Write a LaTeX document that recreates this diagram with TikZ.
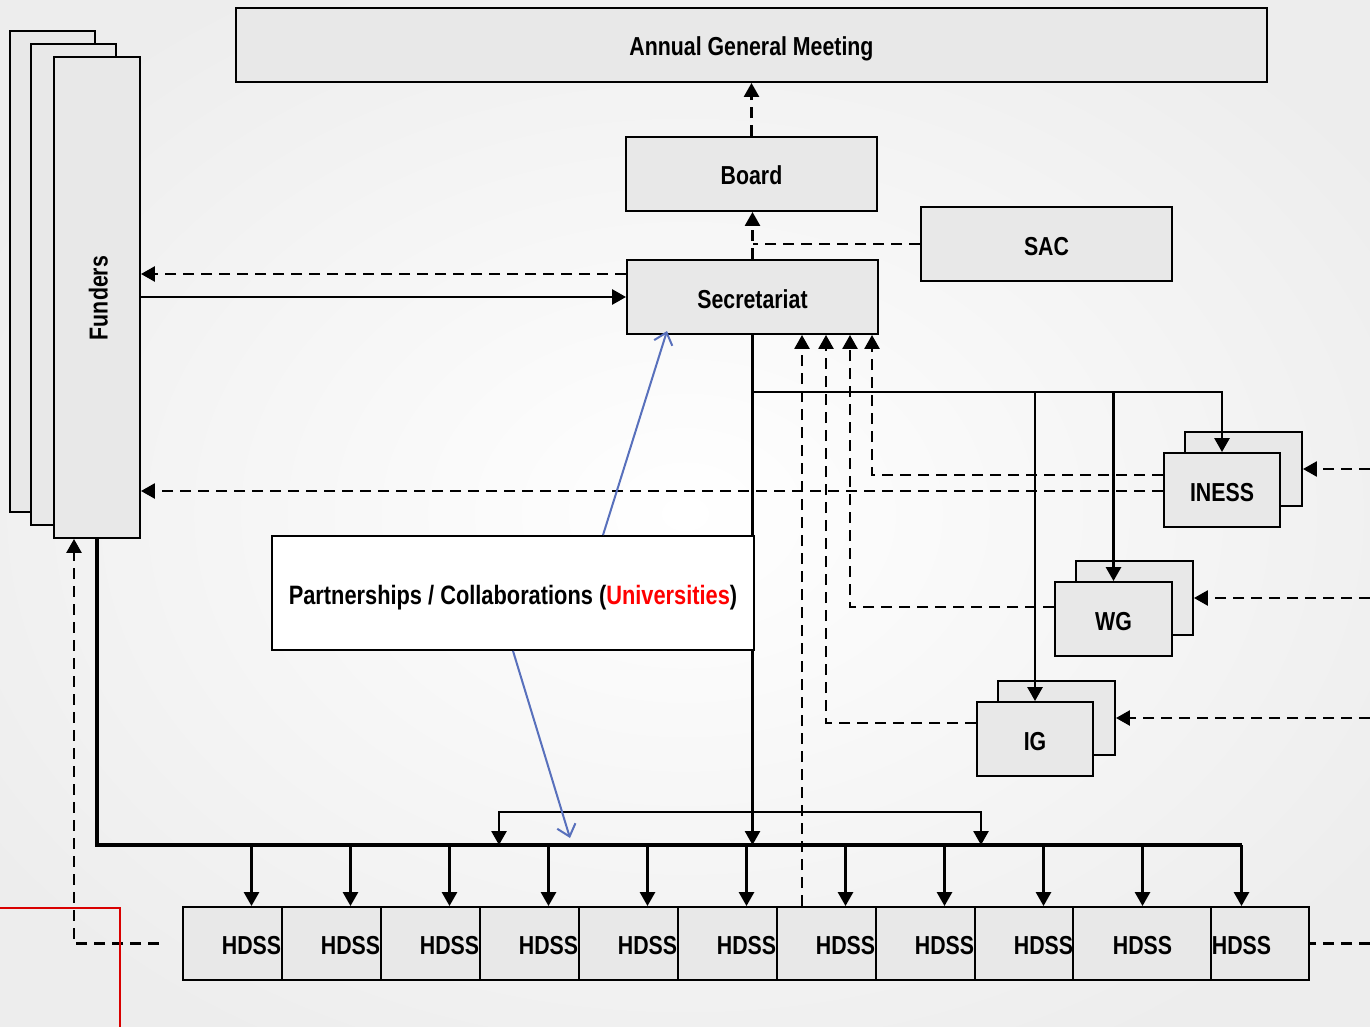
\documentclass[tikz,border=0pt]{standalone}
\usepackage{fontspec}
\setmainfont{Liberation Sans}[FakeStretch=0.82]
\usetikzlibrary{arrows.meta,calc}
\definecolor{boxgray}{HTML}{E8E8E8}
\definecolor{bluearr}{RGB}{88,112,188}
\begin{document}
\begin{tikzpicture}[x=1pt,y=-1pt,
  lbl/.style={font=\fontsize{26}{30}\selectfont\bfseries, text height=22pt, text depth=0pt},
  box/.style={draw, fill=boxgray, line width=1.9pt, inner sep=0pt, lbl},
  wbox/.style={draw, fill=white, line width=1.9pt, inner sep=0pt, lbl},
  conn/.style={line width=2.7pt, draw=black},
  tip/.style={-{Triangle[length=14pt,width=15pt]}},
  dsh/.style={line width=2.6pt, dash pattern=on 11pt off 7pt},
  blu/.style={draw=bluearr, line width=2pt, -{Straight Barb[length=11pt,width=19pt,line width=2pt]}}
]
\useasboundingbox (0,0) rectangle (1370,1027);
\shade[inner color=white, outer color=black!7] (-150,-100) rectangle (1520,1127);

% top boxes
\node[box, minimum width=1031pt, minimum height=74pt] (agm) at (751.5,45) {Annual General Meeting};
\node[box, minimum width=251pt, minimum height=74pt] (board) at (751.5,174) {Board};
\node[box, minimum width=251pt, minimum height=74pt] (sac) at (1046.5,244) {SAC};
\node[box, minimum width=251pt, minimum height=74pt] (sec) at (752.5,297) {Secretariat};

% funders stack
\node[box, minimum width=85pt, minimum height=481pt] (fb1) at (52.5,271.5) {};
\node[box, minimum width=85pt, minimum height=481pt] (fb2) at (73.5,284.5) {};
\node[box, minimum width=86pt, minimum height=481pt] (funders) at (97,297.5) {};
\node[lbl, rotate=90, text height=19pt] (fundtxt) at (98,298) {Funders};

% INESS, WG, IG stacks
\node[box, minimum width=117pt, minimum height=74pt] (inessb) at (1243.5,469) {};
\node[box, minimum width=116pt, minimum height=74pt] (inessf) at (1222,490) {INESS};
\node[box, minimum width=117pt, minimum height=74pt] (wgb) at (1134.5,598) {};
\node[box, minimum width=117pt, minimum height=74pt] (wgf) at (1113.5,619) {WG};
\node[box, minimum width=117pt, minimum height=74pt] (igb) at (1056.5,718) {};
\node[box, minimum width=116pt, minimum height=74pt] (igf) at (1035,739) {IG};

% HDSS row
\foreach \i/\l/\r in {1/183/282,2/282/381,3/381/480,4/480/579,5/579/678,6/678/777,7/777/876,8/876/975,9/975/1073,10/1073/1211,11/1211/1309}{
  \node[box, minimum width={\r-\l}, minimum height=73pt] (h\i) at ({(\l+\r)/2},943.5) {};
}
\foreach \i in {1,...,11}{
  \node[lbl, inner sep=0pt] (t\i) at ({251.5+99*(\i-1)},943.5) {HDSS};
}

% bus coordinates
\coordinate (busL) at (funders.south |- 0,845);
\coordinate (busR) at (t11.center |- 0,845);
\coordinate (ub1) at (499,845);
\coordinate (ub2) at (981,845);
\coordinate (hl) at ($(h1.west)+(-23,0)$);
\coordinate (re0) at (1370,943.5);
\coordinate (re1) at (1370,469);
\coordinate (re2) at (1370,598);
\coordinate (re3) at (1370,718);

% main solid bus from funders
\draw[line width=3.6pt] (funders.south) -- (busL) -- (busR);
\foreach \i in {1,...,11}{
  \draw[conn, tip] (t\i.center |- 0,845) -- (t\i.center |- h\i.north);
}

% secretariat down line and branches
\draw[conn, tip] (sec.south) -- (sec.south |- busL);
\draw[conn, tip] (sec.south |- 0,392) -| (inessf.north);
\draw[conn, tip] (wgf.north |- 0,392) -- (wgf.north);
\draw[conn, tip] (igf.north |- 0,392) -- (igf.north);
\draw[conn, {Triangle[length=14pt,width=15pt]}-{Triangle[length=14pt,width=15pt]}] (ub1) |- (752.5,812) -| (ub2);

% funders <-> secretariat
\draw[dsh, tip] (sec.west |- 0,274) -- (funders.east |- 0,274);
\draw[conn, tip] (funders.east |- 0,297) -- (sec.west);

% dashed upward links
\draw[dsh, tip] (board.north) -- (agm.south);
\draw[dsh, tip] (sec.north) -- (sec.north |- board.south);
\draw[dsh] (sac.west) -- (sec.north |- sac.west);
\draw[dsh, tip] (inessf.west |- 0,491) -- (funders.east |- 0,491);
\draw[dsh, tip] (inessf.west |- 0,475) -| (sec.south -| 872,0);
\draw[dsh, tip] (wgf.west |- 0,607) -| (sec.south -| 850,0);
\draw[dsh, tip] (igf.west |- 0,723) -| (sec.south -| 826,0);
\draw[dsh, tip] (h7.north -| 802,0) -- (sec.south -| 802,0);
\draw[dsh, tip] (hl) -| (funders.south -| 74,0);

% right side dashed
\draw[dsh] (re0) -- (h11.east);
\draw[dsh, tip] (re1) -- (inessb.east);
\draw[dsh, tip] (re2) -- (wgb.east);
\draw[dsh, tip] (re3) -- (igb.east);

% partnerships box
\node[wbox, minimum width=482pt, minimum height=114pt, font=\fontsize{26.6}{30}\selectfont\bfseries] (part) at (513,593) {Partnerships / Collaborations (\textcolor{red}{Universities})};
\draw[blu] (part.north -| 603,0) -- (667,331);
\draw[blu] (part.south -| 513,0) -- (570,838);

% red corner line
\draw[red!85!black, line width=1.6pt] (0,908) -- (120,908) -- (120,1027);
\end{tikzpicture}
\end{document}
